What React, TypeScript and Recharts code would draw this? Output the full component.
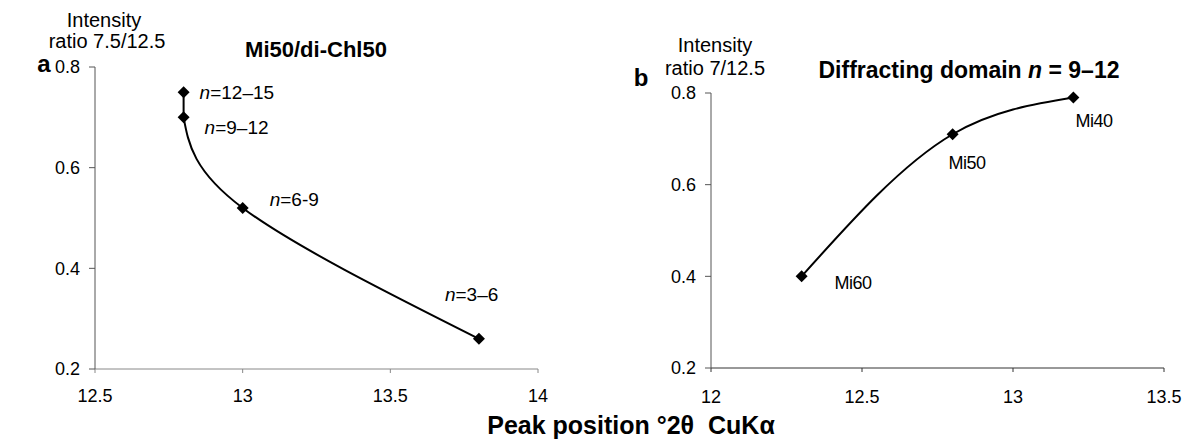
import React from "react";
import { ComposedChart, Line, XAxis, YAxis } from "recharts";

// panel a: Mi50/di-Chl50, points for each diffracting domain size
const posA = [12.8, 12.8, 13.0, 13.8];
const ratioA = [0.75, 0.7, 0.52, 0.26];
const domainA = ["=12–15", "=9–12", "=6-9", "=3–6"];

// panel b: n = 9-12, samples
const posB = [12.3, 12.8, 13.2];
const ratioB = [0.4, 0.71, 0.79];
const sampleB = ["Mi60", "Mi50", "Mi40"];

const ratioTicks = [0.2, 0.4, 0.6, 0.8];
const posTicksA = [12.5, 13, 13.5, 14];
const posTicksB = [12, 12.5, 13, 13.5];

const FONT = '"Liberation Sans", Arial, sans-serif';

const pointsA = posA.map((x, i) => ({ x, y: ratioA[i], label: domainA[i] }));
const pointsB = posB.map((x, i) => ({ x, y: ratioB[i], label: sampleB[i] }));

// label offsets from the marker (dx, dy)
const offsetsA = [
  [16, 0],
  [21, 10],
  [27, -9],
  [-34, -45],
];
const offsetsB = [
  [33, 7],
  [-4, 29],
  [2, 23],
];

function diamond(cx: number, cy: number) {
  const r = 6;
  return `M${cx},${cy - r}L${cx + r},${cy}L${cx},${cy + r}L${cx - r},${cy}Z`;
}

function markerA(props: any) {
  const { cx, cy, index, payload } = props;
  const [dx, dy] = offsetsA[index];
  return (
    <g key={"a" + index}>
      <path d={diamond(cx, cy)} fill="#000" />
      <text
        x={cx + dx}
        y={cy + dy}
        dominantBaseline="central"
        fontSize={19}
        fontFamily={FONT}
        fill="#000"
      >
        <tspan fontStyle="italic">n</tspan>
        <tspan>{payload.label}</tspan>
      </text>
    </g>
  );
}

function markerB(props: any) {
  const { cx, cy, index, payload } = props;
  const [dx, dy] = offsetsB[index];
  return (
    <g key={"b" + index}>
      <path d={diamond(cx, cy)} fill="#000" />
      <text
        x={cx + dx}
        y={cy + dy}
        dominantBaseline="central"
        fontSize={18}
        fontFamily={FONT}
        fill="#000"
        letterSpacing={-0.5}
      >
        {payload.label}
      </text>
    </g>
  );
}

const tick = { fontSize: 18, fill: "#000", fontFamily: FONT };

function Txt(props: {
  x: number;
  y: number;
  size: number;
  bold?: boolean;
  children: React.ReactNode;
}) {
  return (
    <div
      style={{
        position: "absolute",
        left: props.x,
        top: props.y,
        transform: "translate(-50%, -50%)",
        fontSize: props.size,
        fontWeight: props.bold ? "bold" : "normal",
        whiteSpace: "nowrap",
        lineHeight: 1,
        color: "#000",
      }}
    >
      {props.children}
    </div>
  );
}

export default function App() {
  return (
    <div
      style={{
        position: "absolute",
        left: 0,
        top: 0,
        width: 1185,
        height: 444,
        background: "#fff",
        fontFamily: FONT,
        overflow: "hidden",
      }}
    >
      <div style={{ position: "absolute", left: 0, top: 0 }}>
        <ComposedChart
          width={560}
          height={420}
          margin={{ top: 67, right: 22, bottom: 21, left: 45 }}
        >
          <XAxis
            type="number"
            dataKey="x"
            domain={[12.5, 14]}
            ticks={posTicksA}
            height={30}
            tickSize={4}
            tickMargin={16}
            tick={tick}
            stroke="#888"
          />
          <YAxis
            type="number"
            dataKey="y"
            domain={[0.2, 0.8]}
            ticks={ratioTicks}
            width={50}
            tickSize={6}
            tickMargin={9}
            tick={tick}
            stroke="#555"
          />
          <Line
            data={pointsA.slice(0, 2)}
            dataKey="y"
            type="linear"
            stroke="#000"
            strokeWidth={2}
            dot={false}
            isAnimationActive={false}
          />
          <Line
            data={pointsA.slice(1)}
            dataKey="y"
            type="natural"
            stroke="#000"
            strokeWidth={2}
            dot={false}
            isAnimationActive={false}
          />
          <Line
            data={pointsA}
            dataKey="y"
            stroke="none"
            dot={markerA}
            activeDot={false}
            isAnimationActive={false}
          />
        </ComposedChart>
      </div>

      <div style={{ position: "absolute", left: 600, top: 0 }}>
        <ComposedChart
          width={585}
          height={420}
          margin={{ top: 93, right: 21, bottom: 22, left: 61 }}
        >
          <XAxis
            type="number"
            dataKey="x"
            domain={[12, 13.5]}
            ticks={posTicksB}
            height={30}
            tickSize={4}
            tickMargin={18}
            tick={tick}
            stroke="#333"
          />
          <YAxis
            type="number"
            dataKey="y"
            domain={[0.2, 0.8]}
            ticks={ratioTicks}
            width={50}
            tickSize={6}
            tickMargin={9}
            tick={tick}
            stroke="#555"
          />
          <Line
            data={pointsB}
            dataKey="y"
            type="monotone"
            stroke="#000"
            strokeWidth={2}
            dot={false}
            isAnimationActive={false}
          />
          <Line
            data={pointsB}
            dataKey="y"
            stroke="none"
            dot={markerB}
            activeDot={false}
            isAnimationActive={false}
          />
        </ComposedChart>
      </div>

      <Txt x={104} y={20} size={20}>Intensity</Txt>
      <Txt x={107} y={41} size={20}>ratio 7.5/12.5</Txt>
      <Txt x={44} y={64} size={24} bold>a</Txt>
      <Txt x={316} y={50} size={22} bold>Mi50/di-Chl50</Txt>

      <Txt x={715} y={45} size={20}>Intensity</Txt>
      <Txt x={715} y={68} size={20}>ratio 7/12.5</Txt>
      <Txt x={641} y={78} size={24} bold>b</Txt>
      <Txt x={969} y={70} size={23} bold>
        Diffracting domain <i>n</i> = 9–12
      </Txt>

      <Txt x={631} y={425} size={25} bold>
        Peak position °2θ&nbsp; CuKα
      </Txt>
    </div>
  );
}
